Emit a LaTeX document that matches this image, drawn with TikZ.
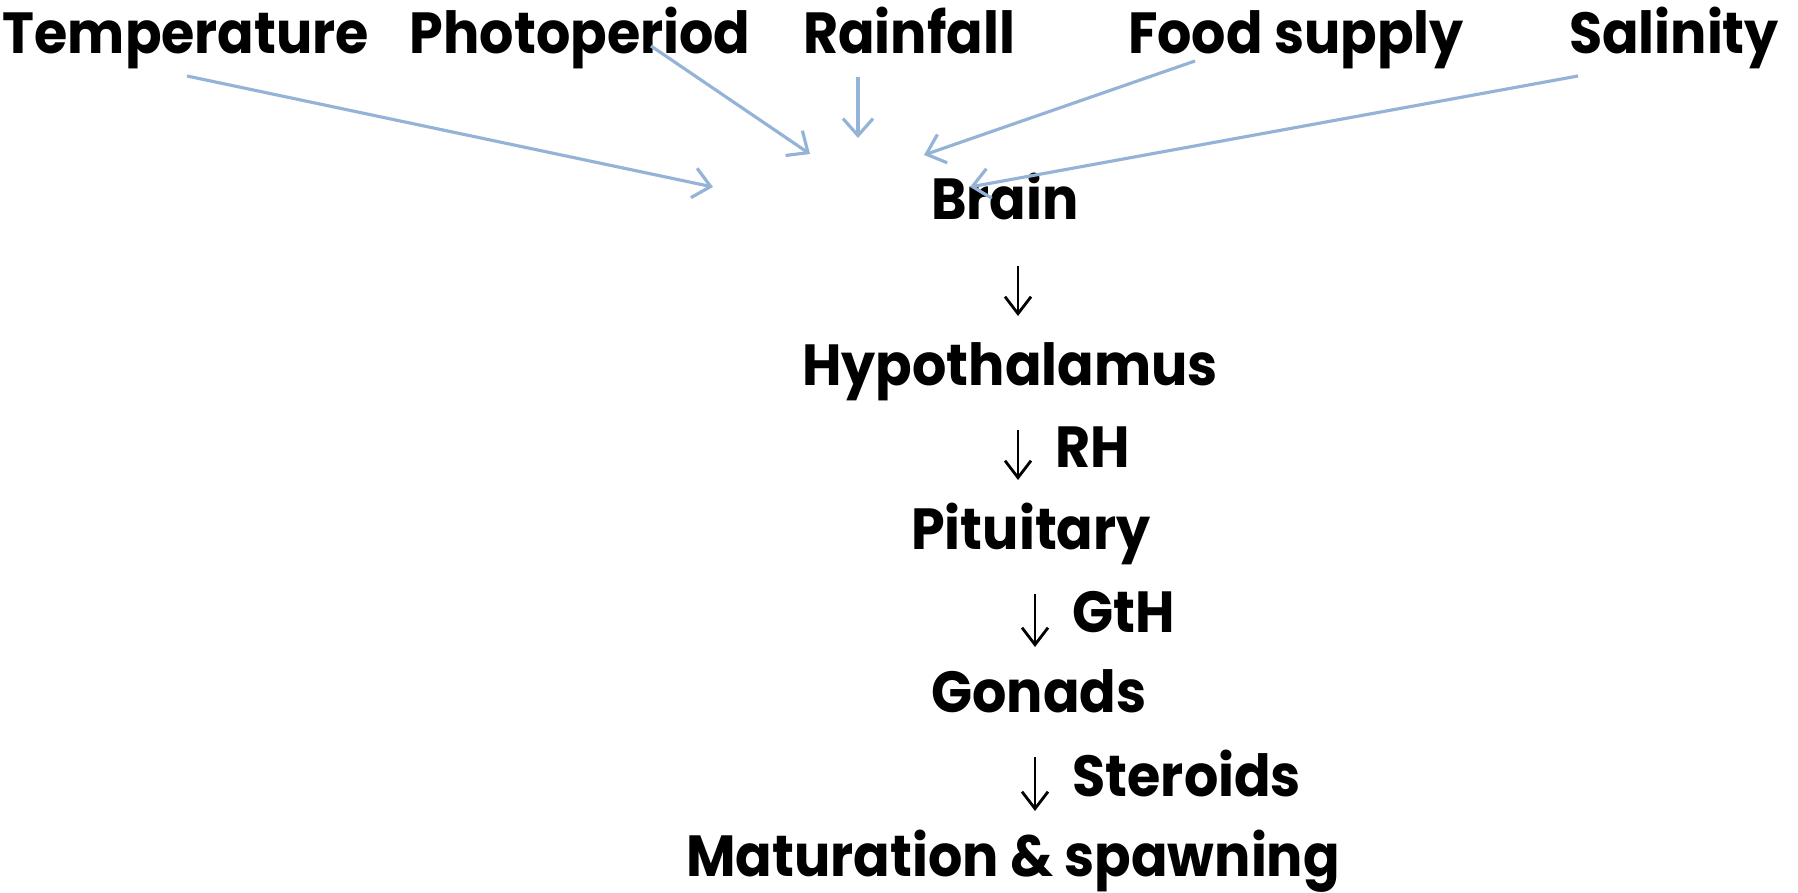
\documentclass[tikz,border=0pt]{standalone}
\usepackage{fontspec}
\setmainfont[FakeStretch=0.93]{Poppins}
\usetikzlibrary{arrows.meta}
\definecolor{inblue}{RGB}{149,179,215}

\begin{document}
\begin{tikzpicture}[
  lbl/.style={font=\bfseries\fontsize{16.5}{18}\selectfont, anchor=base, inner sep=0pt},
  sidelbl/.style={lbl, anchor=base west},
  inarr/.style={draw=inblue, line width=0.9pt, -{Straight Barb[length=1.7mm,width=3mm]}},
  chainarr/.style={line width=0.8pt, -{Straight Barb[length=1.7mm,width=2.6mm]}}]
 \useasboundingbox (0,0) rectangle (17.98,-8.93);
 % environmental factors
 \node[lbl] (temp)  at (1.86,-0.54)  {Temperature};
 \node[lbl] (photo) at (5.80,-0.54)  {Photoperiod};
 \node[lbl] (rain)  at (9.09,-0.54)  {Rainfall};
 \node[lbl] (food)  at (12.96,-0.54) {Food supply};
 \node[lbl] (sal)   at (16.74,-0.54) {Salinity};
 % endocrine chain
 \node[lbl] (brain) at (10.05,-2.20) {Brain};
 \node[lbl] (hyp)   at (10.10,-3.86) {Hypothalamus};
 \node[lbl] (pit)   at (10.31,-5.50) {Pituitary};
 \node[lbl] (gon)   at (10.39,-7.13) {Gonads};
 \node[lbl] (mat)   at (10.13,-8.77) {Maturation \& spawning};
 % arrow ends
 \coordinate (tempS)  at (1.87,-0.76);
 \coordinate (tempE)  at (7.13,-1.87);
 \coordinate (photoS) at (6.51,-0.46);
 \coordinate (photoE) at (8.10,-1.54);
 \coordinate (rainS)  at (8.58,-0.77);
 \coordinate (rainE)  at (8.58,-1.38);
 \coordinate (foodS)  at (11.95,-0.61);
 \coordinate (foodE)  at (9.24,-1.55);
 \coordinate (salS)   at (15.78,-0.76);
 \coordinate (salE)   at (9.70,-1.87);
 \draw[inarr] (tempS) to (tempE);
 \draw[inarr] (photoS) to (photoE);
 \draw[inarr] (rainS) to (rainE);
 \draw[inarr] (foodS) to (foodE);
 \draw[inarr] (salS) to (salE);
 % downward steps
 \coordinate (B1) at (10.18,-2.66);
 \coordinate (B2) at (10.18,-3.16);
 \coordinate (H1) at (10.18,-4.30);
 \coordinate (H2) at (10.18,-4.80);
 \coordinate (P1) at (10.35,-5.94);
 \coordinate (P2) at (10.35,-6.47);
 \coordinate (G1) at (10.35,-7.57);
 \coordinate (G2) at (10.35,-8.11);
 \draw[chainarr] (B1) to (B2);
 \draw[chainarr] (H1) to (H2);
 \draw[chainarr] (P1) to (P2);
 \draw[chainarr] (G1) to (G2);
 \node[sidelbl] (rh)   at (10.55,-4.68) {RH};
 \node[sidelbl] (gth)  at (10.72,-6.33) {GtH};
 \node[sidelbl] (ster) at (10.72,-7.97) {Steroids};
\end{tikzpicture}
\end{document}
